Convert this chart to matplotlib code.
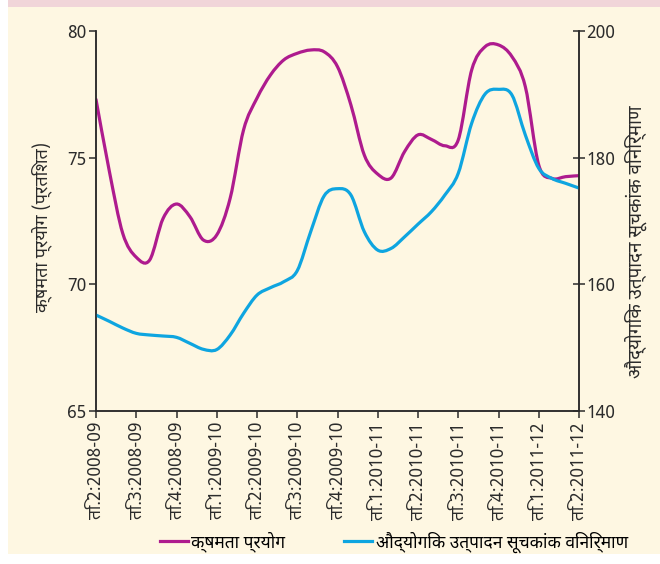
import numpy as np
import matplotlib
matplotlib.use("Agg")
import matplotlib.pyplot as plt
from matplotlib import font_manager as fm
from matplotlib.ft2font import FT2Font
from matplotlib.patches import Rectangle, PathPatch
from matplotlib.path import Path

# quarter labels (one tick per quarter), values read monthly
quarters = ["ति.2:2008-09", "ति.3:2008-09", "ति.4:2008-09", "ति.1:2009-10",
            "ति.2:2009-10", "ति.3:2009-10", "ति.4:2009-10", "ति.1:2010-11",
            "ति.2:2010-11", "ति.3:2010-11", "ति.4:2010-11", "ति.1:2011-12",
            "ति.2:2011-12"]

capacity = [77.3, 74.45, 72.0, 71.07, 70.96, 72.6, 73.17, 72.67, 71.75, 71.95,
            73.4, 76.1, 77.35, 78.26, 78.86, 79.12, 79.25, 79.18, 78.59, 77.08,
            75.1, 74.35, 74.2, 75.24, 75.9, 75.72, 75.47, 75.7, 78.46, 79.38,
            79.45, 78.99, 77.8, 74.71, 74.18, 74.25, 74.29]

iip_mfg = [155.15, 154.15, 153.1, 152.26, 152.0, 151.84, 151.63, 150.68, 149.74,
           149.7, 152.0, 155.42, 158.3, 159.47, 160.42, 162.16, 168.3, 173.95,
           175.1, 174.1, 168.3, 165.4, 165.68, 167.5, 169.5, 171.47, 174.1,
           177.53, 185.43, 190.05, 190.79, 189.9, 183.58, 178.32, 176.7, 175.95,
           175.2]

cap_label = "क्षमता प्रयोग"
iip_label = "औद्योगिक उत्पादन सूचकांक विनिर्माण"
left_title = "क्षमता प्रयोग (प्रतिशत)"

# look for an installed font with Devanagari glyphs, prefer proportional ones
cands = []
for f in fm.fontManager.ttflist:
    try:
        if 0x0915 in FT2Font(f.fname).get_charmap():
            cands.append(f.name)
    except Exception:
        pass
pref = ["Noto Sans Devanagari", "Lohit Devanagari", "Mukta", "Hind", "FreeSans",
        "Gargi", "Kalimati", "FreeSerif", "Noto Serif Devanagari"]
deva = next((p for p in pref if p in cands), None)
if deva is None:
    rest = [c for c in cands if "mono" not in c.lower()]
    deva = rest[0] if rest else (cands[0] if cands else None)
fams = ["Liberation Sans Narrow"] + ([deva] if deva else []) + ["DejaVu Sans"]
plt.rcParams["font.family"] = fams


def smooth_path(xs, ys):
    # catmull-rom curve through the read points, drawn as cubic beziers
    pts = np.column_stack([xs, ys])
    verts = [pts[0]]
    codes = [Path.MOVETO]
    for i in range(len(pts) - 1):
        p0 = pts[i - 1] if i > 0 else pts[i]
        p1, p2 = pts[i], pts[i + 1]
        p3 = pts[i + 2] if i + 2 < len(pts) else pts[i + 1]
        verts += [p1 + (p2 - p0) / 6, p2 - (p3 - p1) / 6, p2]
        codes += [Path.CURVE4] * 3
    return Path(verts, codes)


magenta = "#ae1b8e"
blue = "#0ea5e0"
dark = "#2b2b2b"

fig = plt.figure(figsize=(6.6, 5.64), dpi=100)
fig.patches.append(Rectangle((8/660, 10/564), 652/660, 547/564, transform=fig.transFigure,
                             facecolor="#fef7e2", edgecolor="none", zorder=-10))
fig.patches.append(Rectangle((8/660, 557/564), 652/660, 7/564, transform=fig.transFigure,
                             facecolor="#f1d5d9", edgecolor="none", zorder=-10))

ax = fig.add_axes([96/660, 1 - 411/564, 483/660, 380/564])
ax.patch.set_visible(False)
ax2 = ax.twinx()

x = np.arange(len(capacity)) / 3.0
ax.add_patch(PathPatch(smooth_path(x, capacity), facecolor="none", edgecolor=magenta,
                       lw=2.3, capstyle="round"))
ax2.add_patch(PathPatch(smooth_path(x, iip_mfg), facecolor="none", edgecolor=blue,
                        lw=2.3, capstyle="round"))
l1 = plt.Line2D([], [], color=magenta, lw=2.3)
l2 = plt.Line2D([], [], color=blue, lw=2.3)

ax.set_xlim(0, 12)
ax.set_ylim(65, 80)
ax2.set_ylim(140, 200)
ax.set_yticks([65, 70, 75, 80])
ax2.set_yticks([140, 160, 180, 200])
ax.set_xticks(range(len(quarters)))
ax.set_xticklabels(quarters, rotation=90, fontsize=12.5, color=dark)

for a in (ax, ax2):
    a.spines["top"].set_visible(False)
    for s in ("left", "right", "bottom"):
        a.spines[s].set_color(dark)
        a.spines[s].set_linewidth(1.1)
ax.tick_params(axis="y", direction="out", length=5, width=1.1, colors=dark, labelsize=12.5, pad=2)
ax.tick_params(axis="x", direction="out", length=5, width=1.1, colors=dark, pad=3)
ax2.tick_params(axis="y", direction="inout", length=8, width=1.1, colors=dark, labelsize=12.5, pad=1)

ax.set_ylabel(left_title, fontsize=13, color=dark)
ax2.set_ylabel(iip_label, fontsize=13.5, color=dark)
ax.yaxis.set_label_coords((42 - 96) / 483, (411 - 227) / 380)
ax2.yaxis.set_label_coords((636 - 96) / 483, (411 - 242) / 380)
ax.yaxis.label.set_va("center")
ax2.yaxis.label.set_va("center")

fig.legend([l1, l2], [cap_label, iip_label], loc="center", bbox_to_anchor=(0.597, 1 - 542/564),
           ncol=2, frameon=False, fontsize=12.5, handlelength=1.6, handletextpad=0.2,
           columnspacing=3.4)

fig.savefig("out.png", dpi=100)
